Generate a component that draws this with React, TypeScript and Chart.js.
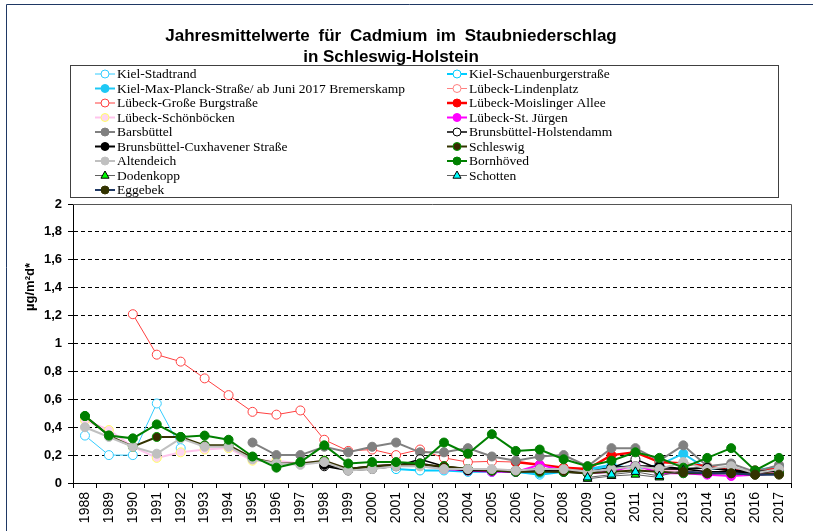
import React, { useEffect, useRef } from 'react';
import { Chart, registerables } from 'chart.js';

Chart.register(...registerables);

const N = null;

const years = ['1988','1989','1990','1991','1992','1993','1994','1995','1996','1997','1998','1999','2000','2001','2002','2003','2004','2005','2006','2007','2008','2009','2010','2011','2012','2013','2014','2015','2016','2017'];

const yTicks = [0, 0.2, 0.4, 0.6, 0.8, 1, 1.2, 1.4, 1.6, 1.8, 2];

const kielStadtrand = [0.34,0.20,0.20,0.57,0.25,N,N,N,N,N,N,N,N,N,N,N,N,N,N,N,N,N,N,N,N,N,N,N,N,N];
const kielSchauenburger = [N,N,N,N,N,N,N,N,N,N,N,N,N,0.10,0.09,0.09,0.08,0.08,0.08,0.06,0.08,0.10,0.11,0.12,N,N,N,N,N,N];
const kielMaxPlanck = [N,N,N,N,N,N,N,N,N,N,N,N,N,N,N,N,N,0.08,0.08,0.07,0.09,0.10,0.13,0.10,0.13,0.21,0.10,0.10,0.09,0.12];
const luebeckLindenplatz = [N,N,N,N,N,N,N,N,N,N,N,N,N,N,N,N,N,N,N,0.10,0.09,0.08,0.10,0.12,0.09,0.10,0.08,0.08,0.07,0.08];
const luebeckGrosseBurg = [N,N,1.21,0.92,0.87,0.75,0.63,0.51,0.49,0.52,0.31,0.23,0.24,0.20,0.24,0.18,0.15,0.155,0.15,N,N,N,N,N,N,N,N,N,N,N];
const luebeckMoislinger = [N,N,N,N,N,N,N,N,N,N,N,N,N,N,N,N,N,N,0.15,0.13,0.11,0.10,0.20,0.22,0.15,0.14,0.12,0.09,0.09,0.10];
const luebeckSchoenboecken = [0.45,0.38,0.26,0.18,0.22,0.24,0.25,0.16,0.16,0.14,0.16,0.10,0.12,0.13,0.12,0.10,0.10,0.09,0.09,0.10,0.09,0.08,0.09,0.10,0.08,0.09,0.07,0.07,0.06,0.07];
const luebeckStJuergen = [N,N,N,N,N,N,N,N,N,N,N,N,N,N,N,0.10,0.09,0.08,0.08,0.13,0.09,0.07,0.08,0.13,0.07,0.07,0.06,0.05,0.06,0.07];
const barsbuettel = [N,N,N,N,N,N,N,0.29,0.20,0.20,0.26,0.22,0.26,0.29,0.22,0.22,0.25,0.19,0.16,0.19,0.20,0.12,0.25,0.25,0.16,0.27,0.12,0.14,0.08,0.13];
const holstendamm = [N,N,N,N,N,N,N,N,N,N,0.12,0.09,0.10,0.12,0.17,0.12,0.10,0.09,0.09,0.10,0.09,0.08,0.11,0.17,0.10,0.10,0.08,0.08,0.07,0.09];
const cuxhavener = [N,N,N,N,N,N,N,N,N,N,0.13,0.10,0.12,0.13,0.14,0.11,0.09,0.09,0.08,0.09,0.08,0.07,0.11,0.12,0.12,0.10,0.11,0.09,0.08,0.09];
const schleswig = [0.48,0.34,0.26,0.33,0.33,0.27,0.27,0.18,0.14,0.14,0.16,0.10,0.12,0.13,0.13,0.12,0.10,0.09,0.08,0.08,0.08,0.07,0.08,0.09,0.08,0.07,0.07,0.07,0.06,0.07];
const altendeich = [0.40,0.33,0.26,0.21,0.32,0.26,0.26,0.17,0.14,0.13,0.15,0.09,0.10,0.12,0.12,0.10,0.10,0.10,0.09,0.10,0.10,0.08,0.10,0.12,0.10,0.15,0.10,0.12,0.07,0.10];
const bornhoeved = [0.48,0.34,0.32,0.42,0.33,0.34,0.31,0.19,0.11,0.15,0.27,0.14,0.15,0.15,0.14,0.29,0.21,0.35,0.23,0.24,0.17,0.12,0.16,0.22,0.18,0.11,0.18,0.25,0.09,0.18];
const dodenkopp = [N,N,N,N,N,N,N,N,N,N,N,N,N,N,N,N,N,N,N,N,N,0.03,0.05,0.06,0.04,N,N,N,N,N];
const schotten = [N,N,N,N,N,N,N,N,N,N,N,N,N,N,N,N,N,N,N,N,N,0.04,0.06,0.08,0.05,0.09,0.07,N,N,N];
const eggebek = [N,N,N,N,N,N,N,N,N,N,N,N,N,N,N,N,N,N,N,N,N,N,N,N,N,0.08,0.07,0.07,0.06,0.06];

type S = { label: string; data: (number | null)[]; line: string; width: number; fill: string; mk: string; shape: string; r: number };

const series: S[] = [
  { label: 'Kiel-Stadtrand', data: kielStadtrand, line: '#33ccff', width: 1, fill: '#ffffff', mk: '#33ccff', shape: 'circle', r: 4.5 },
  { label: 'Kiel-Schauenburgerstraße', data: kielSchauenburger, line: '#00ccff', width: 2, fill: '#ffffff', mk: '#00ccff', shape: 'circle', r: 4.5 },
  { label: 'Kiel-Max-Planck-Straße/ ab Juni 2017 Bremerskamp', data: kielMaxPlanck, line: '#1ec8f5', width: 2, fill: '#1ec8f5', mk: '#1ec8f5', shape: 'circle', r: 4.5 },
  { label: 'Lübeck-Lindenplatz', data: luebeckLindenplatz, line: '#ff8080', width: 1, fill: '#ffffff', mk: '#ff8080', shape: 'circle', r: 4.5 },
  { label: 'Lübeck-Große Burgstraße', data: luebeckGrosseBurg, line: '#ff4040', width: 1, fill: '#ffffff', mk: '#ff4040', shape: 'circle', r: 4.5 },
  { label: 'Lübeck-Moislinger Allee', data: luebeckMoislinger, line: '#ff0000', width: 2.5, fill: '#ff0000', mk: '#ff0000', shape: 'circle', r: 4.5 },
  { label: 'Lübeck-Schönböcken', data: luebeckSchoenboecken, line: '#ffc4ec', width: 2, fill: '#ffd6f0', mk: '#ffff66', shape: 'circle', r: 4.5 },
  { label: 'Lübeck-St. Jürgen', data: luebeckStJuergen, line: '#ff00ff', width: 2, fill: '#ff00ff', mk: '#ff00ff', shape: 'circle', r: 4.5 },
  { label: 'Barsbüttel', data: barsbuettel, line: '#808080', width: 2, fill: '#808080', mk: '#808080', shape: 'circle', r: 4.5 },
  { label: 'Brunsbüttel-Holstendamm', data: holstendamm, line: '#000000', width: 1.5, fill: '#ffffff', mk: '#000000', shape: 'circle', r: 4.5 },
  { label: 'Brunsbüttel-Cuxhavener Straße', data: cuxhavener, line: '#000000', width: 2, fill: '#000000', mk: '#000000', shape: 'circle', r: 4.5 },
  { label: 'Schleswig', data: schleswig, line: '#333300', width: 2, fill: '#3a2a00', mk: '#009900', shape: 'circle', r: 4.5 },
  { label: 'Altendeich', data: altendeich, line: '#c0c0c0', width: 2, fill: '#c0c0c0', mk: '#c0c0c0', shape: 'circle', r: 4.5 },
  { label: 'Bornhöved', data: bornhoeved, line: '#008000', width: 2, fill: '#008000', mk: '#008000', shape: 'circle', r: 4.5 },
  { label: 'Dodenkopp', data: dodenkopp, line: '#606060', width: 1, fill: '#00ff00', mk: '#000000', shape: 'triangle', r: 5 },
  { label: 'Schotten', data: schotten, line: '#606060', width: 1, fill: '#00ffff', mk: '#000000', shape: 'triangle', r: 5 },
  { label: 'Eggebek', data: eggebek, line: '#1f3864', width: 2, fill: '#333300', mk: '#333300', shape: 'circle', r: 4.5 },
];

function drawMarker(ctx: CanvasRenderingContext2D, shape: string, x: number, y: number, r: number, fill: string, stroke: string) {
  ctx.beginPath();
  if (shape === 'triangle') {
    ctx.moveTo(x, y - r);
    ctx.lineTo(x + r * 0.9, y + r * 0.6);
    ctx.lineTo(x - r * 0.9, y + r * 0.6);
    ctx.closePath();
  } else {
    ctx.arc(x, y, r, 0, Math.PI * 2);
  }
  ctx.fillStyle = fill;
  ctx.fill();
  ctx.lineWidth = 1;
  ctx.strokeStyle = stroke;
  ctx.stroke();
}

const decor = {
  id: 'decor',
  afterDraw(chart: any) {
    const ctx: any = chart.ctx;
    const a = chart.chartArea;
    ctx.save();
    // outer frame
    ctx.strokeStyle = '#1f3864';
    ctx.lineWidth = 1;
    ctx.beginPath();
    ctx.moveTo(6.5, 531);
    ctx.lineTo(6.5, 4.5);
    ctx.lineTo(813, 4.5);
    ctx.stroke();
    // plot border top/right
    ctx.strokeStyle = '#555555';
    ctx.beginPath();
    ctx.moveTo(a.left, Math.round(a.top) + 0.5);
    ctx.lineTo(Math.round(a.right) + 0.5, Math.round(a.top) + 0.5);
    ctx.lineTo(Math.round(a.right) + 0.5, a.bottom);
    ctx.stroke();
    // title
    ctx.fillStyle = '#000';
    ctx.font = 'bold 17px "Liberation Sans", Arial, sans-serif';
    ctx.textAlign = 'center';
    ctx.textBaseline = 'middle';
    if ('wordSpacing' in ctx) ctx.wordSpacing = '4px';
    ctx.fillText('Jahresmittelwerte für Cadmium im Staubniederschlag', 391, 36);
    if ('wordSpacing' in ctx) ctx.wordSpacing = '0px';
    ctx.fillText('in Schleswig-Holstein', 391, 57);
    // y axis title
    ctx.save();
    ctx.translate(30, 287);
    ctx.rotate(-Math.PI / 2);
    ctx.font = 'bold 13px "Liberation Sans", Arial, sans-serif';
    ctx.fillText('µg/m²d*', 0, 0);
    ctx.restore();
    // legend box
    ctx.strokeStyle = '#404040';
    ctx.lineWidth = 1;
    ctx.strokeRect(70.5, 65.5, 708, 132);
    ctx.font = '13.5px "Liberation Serif", "Times New Roman", serif';
    ctx.textAlign = 'left';
    ctx.textBaseline = 'middle';
    chart.data.datasets.forEach((ds: any, i: number) => {
      const s = series[i];
      const col = i % 2;
      const row = Math.floor(i / 2);
      const y = 74 + row * 14.5;
      const x0 = col === 0 ? 95 : 447;
      ctx.strokeStyle = s.line;
      ctx.lineWidth = s.width;
      ctx.beginPath();
      ctx.moveTo(x0, y);
      ctx.lineTo(x0 + 20, y);
      ctx.stroke();
      drawMarker(ctx, s.shape, x0 + 10, y, s.shape === 'triangle' ? 4.5 : 4, s.fill, s.mk);
      ctx.fillStyle = '#000';
      ctx.fillText(ds.label, x0 + 22, y + 0.5);
    });
    ctx.restore();
  },
};

export default function App() {
  const ref = useRef<HTMLCanvasElement>(null);
  useEffect(() => {
    document.body.style.margin = '0';
    const canvas = ref.current!;
    const datasets = series.map((s, i) => ({
      label: s.label,
      data: s.data,
      borderColor: s.line,
      backgroundColor: s.fill,
      borderWidth: s.width,
      pointBackgroundColor: s.fill,
      pointBorderColor: s.mk,
      pointBorderWidth: 1,
      pointRadius: s.r,
      pointStyle: s.shape,
      order: -i,
      tension: 0,
      fill: false,
    }));
    const chart = new Chart(canvas, {
      type: 'line',
      data: { labels: years, datasets },
      options: {
        animation: false,
        responsive: false,
        devicePixelRatio: 1,
        layout: { padding: { left: 0, right: 22, top: 204, bottom: 0 } },
        plugins: { legend: { display: false }, tooltip: { enabled: false }, title: { display: false } },
        scales: {
          x: {
            type: 'category',
            offset: true,
            grid: { display: true, drawOnChartArea: false, drawTicks: true, tickLength: 5, offset: true, color: '#000', tickColor: '#000' },
            border: { display: true, color: '#000', width: 1 },
            ticks: { minRotation: 90, maxRotation: 90, autoSkip: false, color: '#000', padding: 4, font: { family: '"Liberation Sans", Arial, sans-serif', size: 14 } },
            afterFit: (s: any) => { s.height = 48; },
          },
          y: {
            min: 0,
            max: 2,
            afterBuildTicks: (s: any) => { s.ticks = yTicks.map((v) => ({ value: v })); },
            ticks: {
              color: '#000',
              padding: 6,
              font: { family: '"Liberation Sans", Arial, sans-serif', size: 13, weight: 'bold' },
              callback: (v: any) => String(Number(Number(v).toFixed(1))).replace('.', ','),
            },
            grid: {
              color: (c: any) => (c.tick && (c.tick.value === 0 || c.tick.value === 2) ? 'rgba(0,0,0,0)' : '#000'),
              tickColor: '#000',
              tickLength: 5,
              tickBorderDash: [],
              lineWidth: 1,
            },
            border: { display: true, color: '#000', width: 1, dash: [4, 3] },
            afterFit: (s: any) => { s.width = 73; },
          },
        },
      },
      plugins: [decor],
    } as any);
    return () => chart.destroy();
  }, []);
  return (
    <div style={{ width: 813, height: 531, position: 'relative', background: '#fff' }}>
      <canvas ref={ref} width={813} height={531} style={{ width: 813, height: 531, display: 'block' }} />
    </div>
  );
}
